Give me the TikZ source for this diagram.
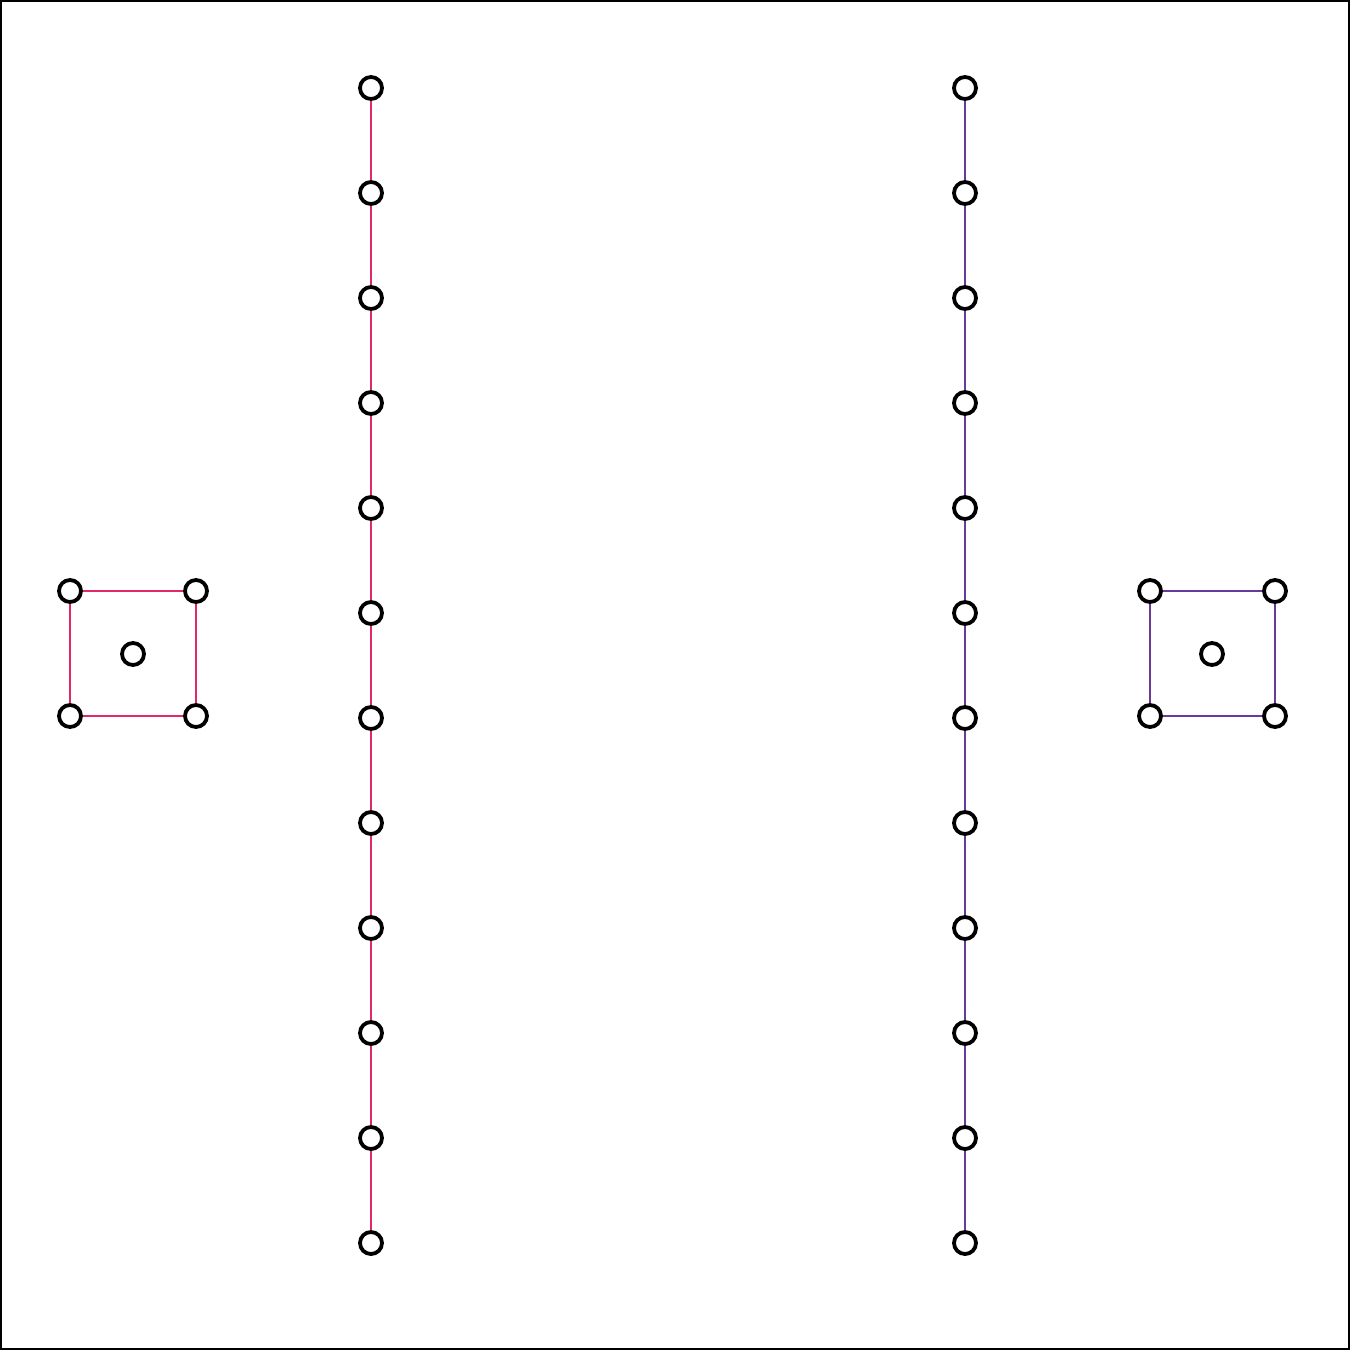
\documentclass[tikz,border=0pt]{standalone}
\begin{document}
\begin{tikzpicture}[x=0.5pt,y=-0.5pt,
  vtx/.style={circle,draw=black,fill=white,line width=1.9pt,minimum size=11pt,inner sep=0pt},
  pinkline/.style={draw={rgb,255:red,224;green,40;blue,106},line width=1pt},
  purpline/.style={draw={rgb,255:red,106;green,58;blue,154},line width=1pt}]
\useasboundingbox (0,0) rectangle (1350,1350);
\draw[line width=1pt] (1,1) rectangle (1349,1349);
% columns
\foreach \i in {0,...,11}{
  \node[vtx] (L\i) at (371,88+105*\i) {};
  \node[vtx] (R\i) at (965,88+105*\i) {};
}
\foreach \i [evaluate=\i as \j using int(\i+1)] in {0,...,10}{
  \draw[pinkline] (L\i) -- (L\j);
  \draw[purpline] (R\i) -- (R\j);
}
% left square
\node[vtx] (a1) at (70,591) {};
\node[vtx] (a2) at (196,591) {};
\node[vtx] (a3) at (196,716) {};
\node[vtx] (a4) at (70,716) {};
\node[vtx] (ac) at (133,654) {};
\draw[pinkline] (a1) -- (a2);
\draw[pinkline] (a2) -- (a3);
\draw[pinkline] (a3) -- (a4);
\draw[pinkline] (a4) -- (a1);
% right square
\node[vtx] (b1) at (1150,591) {};
\node[vtx] (b2) at (1275,591) {};
\node[vtx] (b3) at (1275,716) {};
\node[vtx] (b4) at (1150,716) {};
\node[vtx] (bc) at (1212,654) {};
\draw[purpline] (b1) -- (b2);
\draw[purpline] (b2) -- (b3);
\draw[purpline] (b3) -- (b4);
\draw[purpline] (b4) -- (b1);
\end{tikzpicture}
\end{document}
